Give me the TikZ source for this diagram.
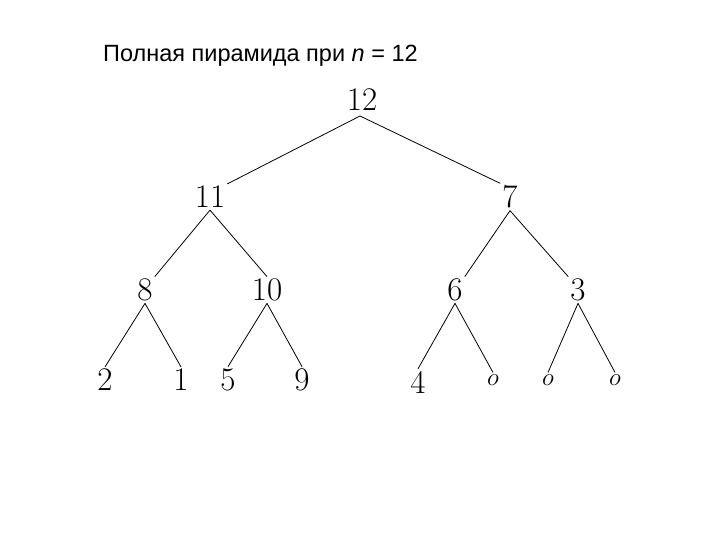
\documentclass[tikz,border=0pt]{standalone}
\usepackage{fontspec}
\newfontfamily\titlefont{Liberation Sans}
\begin{document}
\begin{tikzpicture}[x=1pt,y=-1pt,
  num/.style={font=\fontsize{33}{36}\selectfont, inner sep=2pt},
  edge/.style={line width=0.8pt}]
\useasboundingbox (0,0) rectangle (720,540);
\node[font=\titlefont\fontsize{23.5}{26}\selectfont, anchor=west, inner sep=0pt] (t) at (103,56) {Полная пирамида при \textit{n} = 12};
\node[num] (a) at (362,100) {12};
\node[num] (b) at (210,197) {11};
\node[num] (c) at (510,197) {7};
\node[num] (d) at (145,290) {8};
\node[num] (e) at (267,290) {10};
\node[num] (f) at (455,290) {6};
\node[num] (g) at (578,290) {3};
\node[num] (h) at (105,380) {2};
\node[num] (i) at (181,380) {1};
\node[num] (j) at (228,380) {5};
\node[num] (k) at (302,380) {9};
\node[num] (l) at (418,382) {4};
\node[num] (m) at (493,380) {$o$};
\node[num] (n) at (548,380) {$o$};
\node[num] (o) at (615,380) {$o$};
\coordinate (as) at (360,116);
\draw[edge] (as) -- (b.north east);
\draw[edge] (as) -- (c.north west);
\draw[edge] (b.south) -- (d.north east);
\draw[edge] (b.south) -- (e.north);
\draw[edge] (c.south) -- (f.north east);
\draw[edge] (c.south) -- (g.north west);
\draw[edge] (d.south) -- (h.north);
\draw[edge] (d.south) -- (i.north);
\draw[edge] (e.south) -- (j.north);
\draw[edge] (e.south) -- (k.north);
\draw[edge] (f.south) -- (l.north);
\draw[edge] (f.south) -- (m.north);
\draw[edge] (g.south) -- (n.north);
\draw[edge] (g.south) -- (o.north);
\end{tikzpicture}
\end{document}
